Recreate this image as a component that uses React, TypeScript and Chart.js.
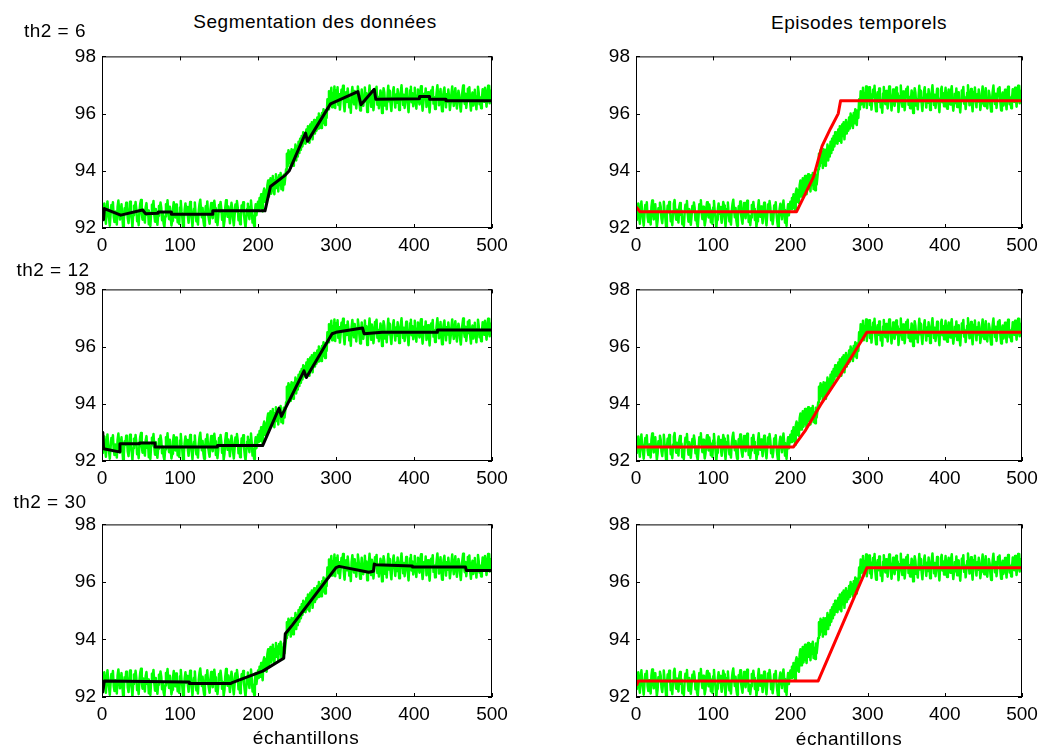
import React, { useEffect, useRef } from "react";
import { Chart, registerables } from "chart.js";

Chart.register(...registerables);

// ---- data ----
const xTicks = [0, 100, 200, 300, 400, 500];
const yTicks = [92, 94, 96, 98];

// measured process signal (500 samples)
const signal = [
  92.28, 92.71, 92.86, 92.40, 92.15, 92.62, 92.93, 92.55, 92.34, 92.08, 92.47, 92.80, 92.66, 92.90, 92.38, 92.21, 92.58, 92.44, 92.12, 92.75,
  92.96, 92.63, 92.30, 92.52, 92.83, 92.41, 92.05, 92.26, 92.69, 92.57, 92.88, 92.74, 92.33, 92.17, 92.49, 92.92, 92.60, 92.36, 92.03, 92.45,
  92.78, 92.55, 92.91, 92.67, 92.24, 92.39, 92.10, 92.58, 92.85, 92.98, 92.51, 92.29, 92.64, 92.42, 92.19, 92.73, 92.87, 92.46, 92.61, 92.13,
  92.32, 92.07, 92.54, 92.81, 92.69, 92.94, 92.48, 92.22, 92.66, 92.35, 92.11, 92.43, 92.77, 92.59, 92.89, 92.70, 92.27, 92.50, 92.16, 92.04,
  92.40, 92.83, 92.62, 92.97, 92.53, 92.31, 92.74, 92.45, 92.09, 92.25, 92.68, 92.90, 92.56, 92.37, 92.82, 92.61, 92.20, 92.48, 92.14, 92.72,
  92.94, 92.58, 92.36, 92.01, 92.29, 92.65, 92.86, 92.50, 92.73, 92.42, 92.18, 92.55, 92.91, 92.79, 92.33, 92.06, 92.44, 92.67, 92.89, 92.52,
  92.23, 92.47, 92.12, 92.60, 92.84, 92.99, 92.63, 92.38, 92.70, 92.26, 92.08, 92.41, 92.76, 92.57, 92.93, 92.49, 92.30, 92.15, 92.64, 92.87,
  92.53, 92.34, 92.78, 92.95, 92.69, 92.21, 92.43, 92.10, 92.37, 92.80, 92.58, 92.91, 92.66, 92.28, 92.52, 92.05, 92.24, 92.71, 92.97, 92.62,
  92.39, 92.75, 92.46, 92.17, 92.56, 92.88, 92.68, 92.32, 92.09, 92.44, 92.82, 92.59, 92.94, 92.72, 92.27, 92.50, 92.13, 92.36, 92.79, 92.61,
  92.90, 92.48, 92.22, 92.02, 92.35, 92.67, 92.85, 92.54, 92.31, 92.74, 92.96, 92.63, 92.19, 92.42, 92.07, 92.58, 92.83, 92.45, 92.70, 92.92,
  92.66, 93.05, 92.70, 93.18, 92.84, 92.58, 93.25, 93.38, 92.92, 93.30, 92.88, 93.50, 93.66, 93.10, 93.42, 93.74, 93.20, 93.56, 93.82, 93.35,
  93.18, 93.68, 93.88, 93.40, 93.75, 93.28, 93.84, 93.50, 93.92, 93.36, 93.70, 93.32, 93.86, 93.52, 93.78, 94.05, 94.60, 94.15, 94.72, 94.28,
  94.66, 94.10, 94.75, 94.38, 94.18, 94.74, 94.45, 94.92, 94.36, 94.84, 94.50, 95.02, 94.62, 95.12, 94.74, 95.22, 94.85, 95.35, 94.96, 95.30,
  94.95, 95.44, 95.05, 95.56, 95.12, 94.98, 95.62, 95.22, 95.70, 95.10, 95.52, 95.78, 95.30, 95.68, 95.40, 95.86, 95.48, 96.00, 95.58, 95.92,
  95.50, 96.02, 95.66, 96.15, 95.75, 95.60, 96.12, 95.85, 96.50, 96.15, 96.78, 96.32, 96.65, 96.90, 96.22, 96.70, 96.42, 96.95, 96.20, 96.82,
  96.55, 96.92, 96.30, 96.68, 96.14, 96.47, 96.83, 96.59, 96.97, 96.36, 96.08, 96.52, 96.75, 96.41, 96.88, 96.62, 96.22, 96.44, 96.03, 96.70,
  96.93, 96.57, 96.33, 96.79, 96.50, 96.18, 96.65, 96.95, 96.73, 96.39, 96.11, 96.46, 96.84, 96.60, 96.27, 96.54, 96.91, 96.43, 96.71, 96.06,
  96.35, 96.62, 96.98, 96.48, 96.24, 96.77, 96.56, 96.12, 96.40, 96.86, 96.69, 96.94, 96.31, 96.58, 96.19, 96.45, 96.81, 96.64, 96.02, 96.53,
  96.89, 96.72, 96.28, 96.50, 96.15, 96.61, 96.97, 96.43, 96.80, 96.34, 96.09, 96.55, 96.76, 96.92, 96.47, 96.21, 96.67, 96.38, 96.85, 96.60,
  96.13, 96.42, 96.74, 96.99, 96.58, 96.30, 96.66, 96.20, 96.49, 96.87, 96.63, 96.36, 96.05, 96.52, 96.82, 96.94, 96.40, 96.71, 96.26, 96.57,
  96.90, 96.46, 96.17, 96.63, 96.84, 96.55, 96.32, 96.78, 96.96, 96.44, 96.10, 96.37, 96.69, 96.51, 96.88, 96.23, 96.59, 96.75, 96.41, 96.04,
  96.48, 96.81, 96.65, 96.93, 96.35, 96.57, 96.16, 96.44, 96.73, 96.99, 96.60, 96.29, 96.52, 96.86, 96.39, 96.08, 96.56, 96.77, 96.91, 96.45,
  96.22, 96.68, 96.42, 96.84, 96.58, 96.13, 96.36, 96.70, 96.95, 96.50, 96.27, 96.62, 96.89, 96.47, 96.18, 96.54, 96.80, 96.66, 96.31, 96.07,
  96.43, 96.76, 96.98, 96.55, 96.34, 96.69, 96.20, 96.47, 96.87, 96.63, 96.92, 96.38, 96.11, 96.59, 96.74, 96.28, 96.53, 96.83, 96.46, 96.15,
  96.61, 96.94, 96.72, 96.33, 96.56, 96.19, 96.48, 96.85, 96.66, 96.41, 96.90, 96.57, 96.24, 96.70, 96.97, 96.52, 96.36, 96.79, 96.45, 96.99,
];

// data segmentation (black), th2 = 6 / 12 / 30
const seg6X = [1, 2, 3, 24, 52, 56, 72, 72, 89, 89, 142, 142, 209, 216, 235, 240, 261, 263.5, 293, 328, 332, 349, 351, 407, 407, 420, 420, 441, 441, 500];
const seg6Y = [92.29, 92.29, 92.68, 92.45, 92.63, 92.5, 92.52, 92.56, 92.56, 92.48, 92.48, 92.6, 92.6, 93.45, 93.85, 94.0, 95.32, 95.03, 96.34, 96.77, 96.31, 96.85, 96.5, 96.52, 96.6, 96.6, 96.5, 96.5, 96.45, 96.45];

const seg12X = [1, 2, 22, 23, 48, 48, 68, 68, 148, 148, 206, 227, 230, 259, 262, 295, 300, 334, 336, 359, 430, 430, 500];
const seg12Y = [93.0, 92.43, 92.32, 92.6, 92.6, 92.63, 92.63, 92.49, 92.49, 92.54, 92.54, 93.85, 93.56, 95.15, 94.92, 96.45, 96.5, 96.65, 96.45, 96.5, 96.5, 96.58, 96.58];

const seg30X = [1, 3, 112, 112, 165, 167, 206, 233, 235, 244, 300, 304, 342, 348, 349, 351, 398, 398, 466, 467, 500];
const seg30Y = [92.17, 92.56, 92.52, 92.47, 92.47, 92.5, 92.9, 93.35, 94.2, 94.5, 96.5, 96.54, 96.34, 96.37, 96.62, 96.6, 96.55, 96.52, 96.52, 96.4, 96.4];

// temporal episodes (red), th2 = 6 / 12 / 30
const ep6X = [1, 5, 208, 230, 241, 252, 262, 265, 500];
const ep6Y = [92.71, 92.57, 92.57, 93.79, 94.86, 95.48, 96.0, 96.45, 96.45];

const ep12X = [1, 204, 219, 239, 264, 299, 500];
const ep12Y = [92.49, 92.49, 93.05, 93.96, 94.98, 96.5, 96.5];

const ep30X = [1, 3, 236, 299, 500];
const ep30Y = [92.43, 92.56, 92.56, 96.49, 96.49];

// ---- layout / styles ----
const FONT = "'Liberation Sans', Arial, Helvetica, sans-serif";
const PAD_L = 60;
const PAD_T = 12;
const PAD_R = 25;
const PAD_B = 35;

const boxPlugin = {
  id: "matlabBox",
  afterDraw(chart: any) {
    const { ctx, chartArea } = chart;
    const { left, top, right, bottom } = chartArea;
    const xs = chart.scales.x;
    const ys = chart.scales.y;
    ctx.save();
    ctx.strokeStyle = "#000";
    ctx.lineWidth = 1;
    ctx.strokeRect(left + 0.5, top + 0.5, right - left - 1, bottom - top - 1);
    const tl = 4;
    ctx.beginPath();
    xTicks.forEach((v) => {
      const px = Math.round(xs.getPixelForValue(v)) + 0.5;
      ctx.moveTo(px, bottom);
      ctx.lineTo(px, bottom - tl);
      ctx.moveTo(px, top);
      ctx.lineTo(px, top + tl);
    });
    yTicks.forEach((v) => {
      const py = Math.round(ys.getPixelForValue(v)) + 0.5;
      ctx.moveTo(left, py);
      ctx.lineTo(left + tl, py);
      ctx.moveTo(right, py);
      ctx.lineTo(right - tl, py);
    });
    ctx.stroke();
    ctx.restore();
  },
};

type PanelProps = {
  left: number;
  top: number;
  w: number;
  h: number;
  lx: number[];
  ly: number[];
  color: string;
};

function Panel({ left, top, w, h, lx, ly, color }: PanelProps) {
  const ref = useRef<HTMLCanvasElement>(null);
  useEffect(() => {
    if (!ref.current) return;
    const tickFont = { family: FONT, size: 19 };
    const chart = new Chart(ref.current, {
      type: "line",
      data: {
        datasets: [
          {
            data: lx.map((x, i) => ({ x, y: ly[i] })),
            borderColor: color,
            borderWidth: 3,
            pointRadius: 0,
            tension: 0,
            borderJoinStyle: "round",
            borderCapStyle: "round",
            order: 1,
          },
          {
            data: signal.map((y, i) => ({ x: i + 1, y })),
            borderColor: "#00ff00",
            borderWidth: 2.5,
            pointRadius: 0,
            tension: 0,
            borderJoinStyle: "round",
            borderCapStyle: "round",
            order: 2,
          },
        ],
      },
      options: {
        responsive: false,
        animation: false,
        devicePixelRatio: 1,
        events: [],
        layout: { padding: { top: PAD_T, right: PAD_R, left: 0, bottom: 0 } },
        plugins: {
          legend: { display: false },
          tooltip: { enabled: false },
          title: { display: false },
        },
        scales: {
          x: {
            type: "linear",
            min: 0,
            max: 500,
            afterBuildTicks: (s: any) => {
              s.ticks = xTicks.map((v) => ({ value: v }));
            },
            afterFit: (s: any) => {
              s.height = PAD_B;
            },
            grid: { display: false, drawTicks: false },
            border: { display: false },
            ticks: {
              padding: 6,
              font: tickFont,
              color: "#000",
              maxRotation: 0,
              autoSkip: false,
            },
          },
          y: {
            type: "linear",
            min: 92,
            max: 98,
            afterBuildTicks: (s: any) => {
              s.ticks = yTicks.map((v) => ({ value: v }));
            },
            afterFit: (s: any) => {
              s.width = PAD_L;
            },
            grid: { display: false, drawTicks: false },
            border: { display: false },
            ticks: {
              padding: 6,
              font: tickFont,
              color: "#000",
              autoSkip: false,
            },
          },
        },
      },
      plugins: [boxPlugin],
    } as any);
    return () => chart.destroy();
  }, []);
  const cw = w + PAD_L + PAD_R;
  const ch = h + PAD_T + PAD_B;
  return (
    <canvas
      ref={ref}
      width={cw}
      height={ch}
      style={{ position: "absolute", left: left - PAD_L, top: top - PAD_T, width: cw, height: ch }}
    />
  );
}

function Label({ x, y, text }: { x: number; y: number; text: string }) {
  return (
    <div
      style={{
        position: "absolute",
        left: x,
        top: y,
        transform: "translate(-50%, -50%)",
        whiteSpace: "nowrap",
        fontFamily: FONT,
        fontSize: 19,
        lineHeight: "19px",
        letterSpacing: "0.5px",
        color: "#000",
      }}
    >
      {text}
    </div>
  );
}

const colLeft = [102, 636];
const colWidth = [390, 386];
const rowTop = [51, 284, 519];
const rowHeight = [177, 177, 178];

const segX = [seg6X, seg12X, seg30X];
const segY = [seg6Y, seg12Y, seg30Y];
const epX = [ep6X, ep12X, ep30X];
const epY = [ep6Y, ep12Y, ep30Y];

export default function App() {
  return (
    <div
      style={{
        position: "absolute",
        left: 0,
        top: 0,
        width: 1050,
        height: 745,
        background: "#fff",
        overflow: "hidden",
      }}
    >
      {rowTop.map((t, r) => (
        <React.Fragment key={r}>
          <Panel left={colLeft[0]} top={t} w={colWidth[0]} h={rowHeight[r]} lx={segX[r]} ly={segY[r]} color="#000000" />
          <Panel left={colLeft[1]} top={t} w={colWidth[1]} h={rowHeight[r]} lx={epX[r]} ly={epY[r]} color="#ff0000" />
        </React.Fragment>
      ))}
      <Label x={315} y={21} text="Segmentation des données" />
      <Label x={859} y={21.5} text="Episodes temporels" />
      <Label x={55} y={29.5} text="th2 = 6" />
      <Label x={53} y={268.5} text="th2 = 12" />
      <Label x={50} y={500.5} text="th2 = 30" />
      <Label x={306} y={737} text="échantillons" />
      <Label x={849} y={737.5} text="échantillons" />
    </div>
  );
}
